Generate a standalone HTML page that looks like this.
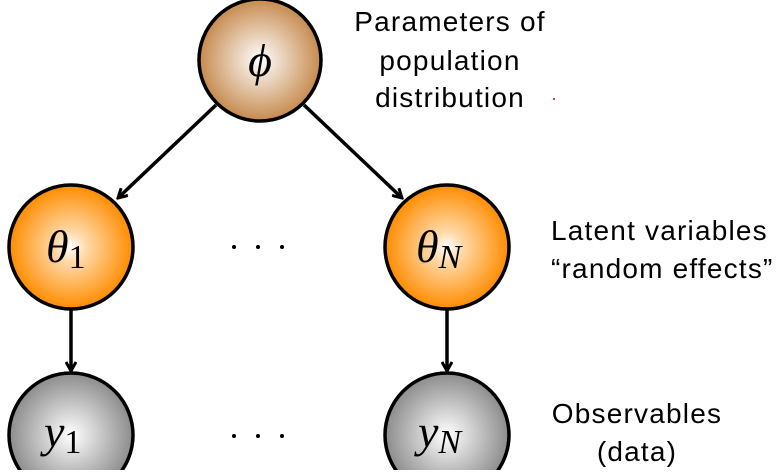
<!DOCTYPE html>
<html><head><style>
body{margin:0;background:#fff;width:780px;height:470px;overflow:hidden}
svg text{font-family:"Liberation Sans",sans-serif;font-size:28px;letter-spacing:1.2px;fill:#000}
.m{font-family:"Liberation Serif",serif;font-style:italic;font-size:46px;letter-spacing:0}
</style></head><body>
<svg width="780" height="470" viewBox="0 0 780 470">
<defs>
<radialGradient id="b"><stop offset="0" stop-color="#fff"/><stop offset="1" stop-color="#c68a4e"/></radialGradient>
<radialGradient id="o"><stop offset="0" stop-color="#fff"/><stop offset="0.25" stop-color="#ffd9a8"/><stop offset="1" stop-color="#ff8c00"/></radialGradient>
<radialGradient id="g"><stop offset="0" stop-color="#fff"/><stop offset="1" stop-color="#8c8c8c"/></radialGradient>
<marker id="a" markerWidth="12" markerHeight="12" refX="10" refY="6" orient="auto" markerUnits="userSpaceOnUse"><path d="M1,1 L10,6 L1,11" fill="none" stroke="#000" stroke-width="3"/></marker>
</defs>
<g stroke="#000" stroke-width="3.5">
<line x1="216" y1="105" x2="118" y2="198" marker-end="url(#a)"/>
<line x1="304" y1="105" x2="402" y2="198" marker-end="url(#a)"/>
<line x1="71" y1="310" x2="71" y2="371" marker-end="url(#a)"/>
<line x1="447" y1="310" x2="447" y2="371" marker-end="url(#a)"/>
<circle cx="260" cy="60" r="61" fill="url(#b)"/>
<circle cx="71" cy="247" r="62" fill="url(#o)"/>
<circle cx="447" cy="247" r="62" fill="url(#o)"/>
<circle cx="71" cy="435" r="62" fill="url(#g)"/>
<circle cx="447" cy="435" r="62" fill="url(#g)"/>
</g>
<text class="m" x="260" y="76" text-anchor="middle">ϕ</text>
<text class="m" x="46" y="262">θ<tspan font-style="normal" font-size="34" dy="6">1</tspan></text>
<text class="m" x="416" y="262">θ<tspan font-size="34" dy="6">N</tspan></text>
<text class="m" x="44" y="447">y<tspan font-style="normal" font-size="34" dy="6">1</tspan></text>
<text class="m" x="418" y="447">y<tspan font-size="34" dy="6">N</tspan></text>
<g fill="#000"><circle cx="234" cy="247" r="2"/><circle cx="258" cy="247" r="2"/><circle cx="282" cy="247" r="2"/>
<circle cx="234" cy="436" r="2"/><circle cx="258" cy="436" r="2"/><circle cx="282" cy="436" r="2"/></g>
<text x="450" y="31" text-anchor="middle">Parameters of</text>
<text x="450" y="70" text-anchor="middle">population</text>
<text x="450" y="107" text-anchor="middle">distribution</text>
<text x="551" y="240">Latent variables</text>
<text x="551" y="278">“random effects”</text>
<text x="637" y="423" text-anchor="middle">Observables</text>
<text x="637" y="461" text-anchor="middle">(data)</text>
<circle cx="554" cy="99" r="1" fill="#d00"/>
</svg>
</body></html>
